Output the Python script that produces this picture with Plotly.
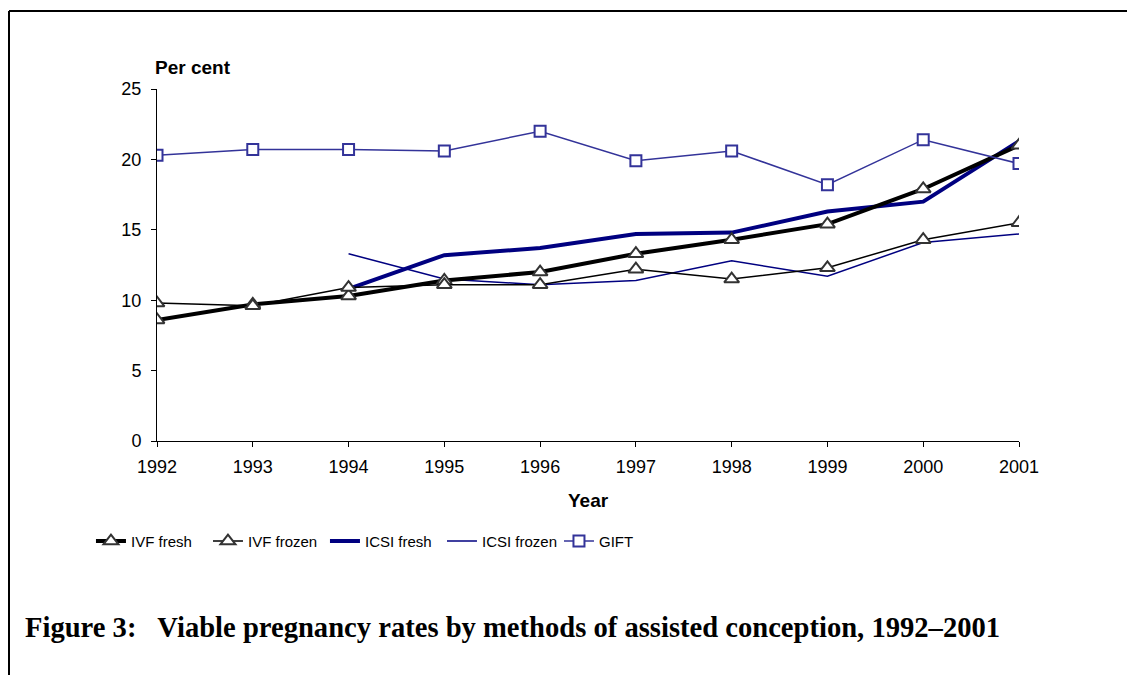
import plotly.graph_objects as go

# Données (taux de grossesse viable, %)
annees = [1992, 1993, 1994, 1995, 1996, 1997, 1998, 1999, 2000, 2001]
annees_icsi = [1994, 1995, 1996, 1997, 1998, 1999, 2000, 2001]

ivf_fresh = [8.6, 9.7, 10.3, 11.4, 12.0, 13.3, 14.3, 15.4, 17.9, 21.0]
ivf_frozen = [9.8, 9.6, 10.9, 11.1, 11.1, 12.2, 11.5, 12.3, 14.3, 15.5]
icsi_fresh = [10.8, 13.2, 13.7, 14.7, 14.8, 16.3, 17.0, 21.3]
icsi_frozen = [13.3, 11.5, 11.1, 11.4, 12.8, 11.7, 14.1, 14.7]
gift = [20.3, 20.7, 20.7, 20.6, 22.0, 19.9, 20.6, 18.2, 21.4, 19.7]

y_ticks = [0, 5, 10, 15, 20, 25]

NAVY = "#000080"
GIFT_COL = "#333399"
tri = dict(symbol="triangle-up", size=13, color="white", line=dict(color="#333333", width=2))

fig = go.Figure()

# ICSI d'abord pour que les triangles IVF passent au-dessus
fig.add_trace(go.Scatter(x=annees_icsi, y=icsi_fresh, name="ICSI fresh", mode="lines",
                         line=dict(color=NAVY, width=4), legendrank=3))
fig.add_trace(go.Scatter(x=annees_icsi, y=icsi_frozen, name="ICSI frozen", mode="lines",
                         line=dict(color=NAVY, width=1.5), legendrank=4))
fig.add_trace(go.Scatter(x=annees, y=ivf_fresh, name="IVF fresh", mode="lines+markers",
                         line=dict(color="black", width=4), marker=tri, legendrank=1))
fig.add_trace(go.Scatter(x=annees, y=ivf_frozen, name="IVF frozen", mode="lines+markers",
                         line=dict(color="black", width=1.5), marker=tri, legendrank=2))
fig.add_trace(go.Scatter(x=annees, y=gift, name="GIFT", mode="lines+markers",
                         line=dict(color=GIFT_COL, width=1.5),
                         marker=dict(symbol="square", size=11, color="white",
                                     line=dict(color=GIFT_COL, width=2)),
                         legendrank=5))

# la page ajoute 8 px de marge au body : on compense dans les marges
fig.update_layout(
    width=1135, height=675,
    margin=dict(l=149, r=124, t=81, b=242, autoexpand=False),
    paper_bgcolor="white", plot_bgcolor="white",
    font=dict(family="Liberation Sans, Arial", size=18, color="black"),
    showlegend=True,
    legend=dict(orientation="h", x=-0.0766, y=-0.285, yanchor="middle", xanchor="left",
                font=dict(size=15), traceorder="normal", itemwidth=30,
                entrywidth=72, entrywidthmode="pixels",
                bgcolor="rgba(0,0,0,0)"),
    xaxis=dict(range=[1992, 2001], tickvals=annees, showgrid=False, zeroline=False,
               showline=True, linecolor="black", linewidth=1,
               ticks="outside", ticklen=5, tickcolor="black", ticklabelstandoff=4),
    yaxis=dict(range=[0, 25], tickvals=y_ticks, showgrid=False, zeroline=False,
               showline=True, linecolor="black", linewidth=1,
               ticks="outside", ticklen=5, tickcolor="black", ticklabelstandoff=6),
)

fig.add_annotation(text="<b>Per cent</b>", xref="paper", yref="paper", x=-0.005, y=1.06,
                   xanchor="left", yanchor="middle", showarrow=False, font=dict(size=19))
fig.add_annotation(text="<b>Year</b>", xref="paper", yref="paper", x=0.5, y=-0.168,
                   xanchor="center", yanchor="middle", showarrow=False, font=dict(size=19))
fig.add_annotation(text="<b>Figure 3:   Viable pregnancy rates by methods of assisted conception, 1992–2001</b>",
                   xref="paper", yref="paper", x=-0.155, y=-0.531, xanchor="left", yanchor="middle",
                   showarrow=False, font=dict(family="Liberation Serif, Times New Roman", size=28.6))

# Cadre (bords gauche et haut visibles) ; le bord gauche est posé sur le bord du SVG
x_cadre = -148 / 862
fig.add_shape(type="line", xref="paper", yref="paper", x0=x_cadre, y0=1.2216, x1=x_cadre, y1=-0.8,
              line=dict(color="black", width=2))
fig.add_shape(type="line", xref="paper", yref="paper", x0=x_cadre, y0=1.2216, x1=1.2, y1=1.2216,
              line=dict(color="black", width=2))

fig.write_html("out.html")
